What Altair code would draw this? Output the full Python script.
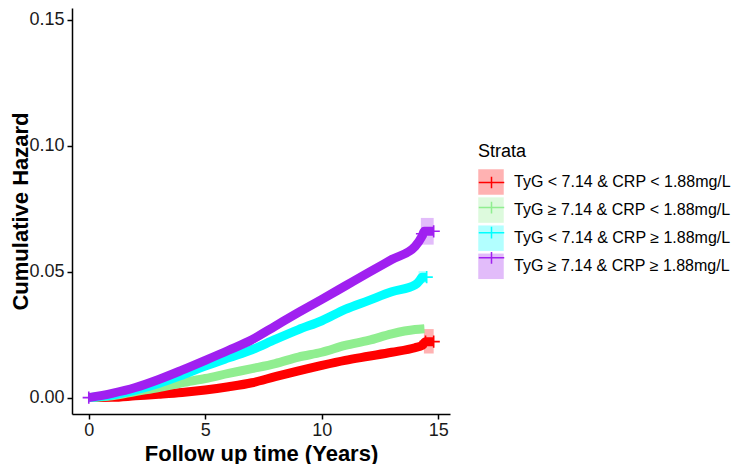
import altair as alt
import pandas as pd

FONT = "Liberation Sans"

STRATA = ["TyG < 7.14 & CRP < 1.88mg/L",
          "TyG \u2265 7.14 & CRP < 1.88mg/L",
          "TyG < 7.14 & CRP \u2265 1.88mg/L",
          "TyG \u2265 7.14 & CRP \u2265 1.88mg/L"]
CODES = ["1", "2", "3", "4"]
COLORS = ["#FF0000", "#90EE90", "#00FFFF", "#A020F0"]

# follow-up years and cumulative hazard
YEARS = [0, 1, 2, 3, 4, 5, 6, 7, 8, 9, 10, 11, 12, 13, 14]
HAZ_1 = [0, 0.0001, 0.0007, 0.0013, 0.0020, 0.0030, 0.0043, 0.0059, 0.0083, 0.0106, 0.0128, 0.0148, 0.0164, 0.0180, 0.0198]
HAZ_2 = [0, 0.0007, 0.0024, 0.0040, 0.0059, 0.0076, 0.0096, 0.0115, 0.0135, 0.0161, 0.0180, 0.0207, 0.0227, 0.0253, 0.0270]
HAZ_3 = [0, 0.0010, 0.0030, 0.0056, 0.0089, 0.0125, 0.0158, 0.0190, 0.0231, 0.0270, 0.0305, 0.0350, 0.0385, 0.0420, 0.0447]
HAZ_4 = [0, 0.0017, 0.0040, 0.0072, 0.0109, 0.0148, 0.0188, 0.0230, 0.0284, 0.0338, 0.0390, 0.0443, 0.0496, 0.0548, 0.0600]

# tails of each curve after year 14
TAIL_T_1 = [14.3, 14.45, 14.8]
TAIL_H_1 = [0.0207, 0.0222, 0.0222]
TAIL_T_2 = [14.4]
TAIL_H_2 = [0.0273]
TAIL_T_3 = [14.2, 14.3, 14.5]
TAIL_H_3 = [0.0465, 0.0478, 0.0478]
TAIL_T_4 = [14.3, 14.4, 14.8]
TAIL_H_4 = [0.0640, 0.0660, 0.0660]

# visible end of the confidence bands
BAND_T_1 = [14.38, 14.8]
BAND_LO_1 = [0.0175, 0.0175]
BAND_HI_1 = [0.0272, 0.0272]
BAND_T_2 = [14.0, 14.4]
BAND_LO_2 = [0.0258, 0.0258]
BAND_HI_2 = [0.0288, 0.0288]
BAND_T_3 = [14.15, 14.5]
BAND_LO_3 = [0.0455, 0.0455]
BAND_HI_3 = [0.0502, 0.0502]
BAND_T_4 = [14.25, 14.8]
BAND_LO_4 = [0.0607, 0.0607]
BAND_HI_4 = [0.0713, 0.0713]

# censoring marks
CENS_T_1 = [14.45, 14.8]
CENS_H_1 = [0.0222, 0.0222]
CENS_T_3 = [14.5]
CENS_H_3 = [0.0478]
CENS_T_4 = [0.0, 14.3, 14.8]
CENS_H_4 = [0.0, 0.0650, 0.0660]

line_rows, band_rows, cens_rows = [], [], []
curves = [(HAZ_1, TAIL_T_1, TAIL_H_1), (HAZ_2, TAIL_T_2, TAIL_H_2),
          (HAZ_3, TAIL_T_3, TAIL_H_3), (HAZ_4, TAIL_T_4, TAIL_H_4)]
bands = [(BAND_T_1, BAND_LO_1, BAND_HI_1), (BAND_T_2, BAND_LO_2, BAND_HI_2),
         (BAND_T_3, BAND_LO_3, BAND_HI_3), (BAND_T_4, BAND_LO_4, BAND_HI_4)]
cens = [(CENS_T_1, CENS_H_1), ([], []), (CENS_T_3, CENS_H_3), (CENS_T_4, CENS_H_4)]
for i, s in enumerate(STRATA):
    haz, tt, th = curves[i]
    for t, h in zip(YEARS + tt, haz + th):
        line_rows.append({"strata": s, "code": CODES[i], "time": t, "hazard": h})
    bt, lo, hi = bands[i]
    for t, l, u in zip(bt, lo, hi):
        band_rows.append({"strata": s, "code": CODES[i], "time": t, "lower": l, "upper": u})
    ct, ch = cens[i]
    for t, h in zip(ct, ch):
        cens_rows.append({"strata": s, "code": CODES[i], "time": t, "hazard": h})

df_line = pd.DataFrame(line_rows)
df_band = pd.DataFrame(band_rows)
df_cens = pd.DataFrame(cens_rows)

x_enc = alt.X("time:Q",
              scale=alt.Scale(domain=[-0.72, 15.5], nice=False, zero=False),
              axis=alt.Axis(values=[0, 5, 10, 15], title="Follow up time (Years)",
                            titleY=39, titleBaseline="middle"))
y_axis = alt.Axis(values=[0, 0.05, 0.10, 0.15], format=".2f", title="Cumulative Hazard",
                  titleX=-52, titleY=203, titleAngle=270, titleAlign="center",
                  titleBaseline="middle")
y_scale = alt.Scale(domain=[-0.0065, 0.1546], nice=False, zero=False)

legend_common = dict(orient="none", legendX=406, legendY=135, padding=0,
                     symbolSize=650, rowPadding=2.1, labelOffset=10,
                     titleFont=FONT, titleFontSize=18, titleFontWeight="normal",
                     titleColor="black", titlePadding=8,
                     labelFont=FONT, labelFontSize=16, labelColor="black",
                     labelLimit=400)

band = alt.Chart(df_band).mark_area(opacity=0.3).encode(
    x=x_enc,
    y=alt.Y("lower:Q", scale=y_scale, axis=y_axis),
    y2="upper:Q",
    fill=alt.Fill("strata:N", scale=alt.Scale(domain=STRATA, range=COLORS),
                  legend=alt.Legend(title="Strata", symbolType="square",
                                    symbolOpacity=0.3, symbolStrokeWidth=0,
                                    **legend_common)),
    detail="code:N",
)

line = alt.Chart(df_line).mark_line(strokeWidth=9, strokeCap="butt",
                                    interpolate="monotone").encode(
    x=x_enc,
    y=alt.Y("hazard:Q", scale=y_scale, axis=y_axis),
    stroke=alt.Stroke("code:N", scale=alt.Scale(domain=CODES, range=COLORS),
                      legend=alt.Legend(title="Strata", titleOpacity=0, labelExpr="''",
                                        symbolType="M-1,0H1M0,-0.46V0.46",
                                        symbolStrokeWidth=1.5, symbolFillColor="transparent",
                                        symbolOpacity=1,
                                        **legend_common)),
    order="time:Q",
)

marks = alt.Chart(df_cens).mark_point(shape="M-1,0H1M0,-1V1", size=150, strokeWidth=1.6,
                                      filled=False, opacity=1).encode(
    x=x_enc,
    y=alt.Y("hazard:Q", scale=y_scale, axis=y_axis),
    color=alt.Color("code:N", scale=alt.Scale(domain=CODES, range=COLORS), legend=None),
)

chart = alt.layer(band, line, marks).resolve_scale(color="independent").properties(
    width=378, height=406,
    padding={"left": 64, "top": 0, "right": 286, "bottom": 50},
    autosize=alt.AutoSizeParams(type="none"),
).configure_view(stroke=None).configure_axis(
    grid=False, domainColor="black", domainWidth=1.5, tickColor="black", tickWidth=1.5,
    tickSize=5, labelFont=FONT, labelFontSize=18, labelColor="#1a1a1a", labelPadding=3,
    titleFont=FONT, titleFontSize=22, titleFontWeight="bold", titleColor="black",
).configure_axisX(labelPadding=2)

chart.save("out.html", embed_options={"renderer": "svg", "actions": False})
